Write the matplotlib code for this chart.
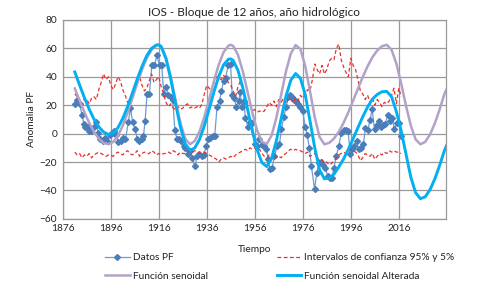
import matplotlib
matplotlib.use('Agg')
import matplotlib.pyplot as plt

plt.rcParams['font.family'] = ['Lato', 'DejaVu Sans']

# Datos PF (anomalia)
pf_years = [1881.0, 1882.0, 1883.0, 1884.0, 1884.8, 1885.4, 1886.4, 1887.1, 1887.9, 1888.9,
            1889.9, 1890.8, 1891.7, 1892.6, 1893.6, 1894.6, 1895.5, 1896.4, 1897.4, 1898.3,
            1899.2, 1900.2, 1901.2, 1902.1, 1903.3, 1904.2, 1905.1, 1906.1, 1907.1, 1907.9,
            1908.9, 1909.6, 1910.3, 1911.1, 1912.1, 1913.1, 1914.2, 1915.2, 1916.3, 1917.2,
            1918.1, 1919.0, 1919.9, 1920.9, 1921.8, 1922.7, 1923.6, 1924.6, 1925.4, 1926.3,
            1927.1, 1928.1, 1929.1, 1929.9, 1931.0, 1932.0, 1932.9, 1933.8, 1934.8, 1935.7,
            1936.6, 1937.4, 1938.5, 1939.3, 1940.3, 1941.3, 1942.1, 1943.0, 1943.8, 1944.9,
            1945.9, 1946.6, 1947.5, 1948.2, 1949.3, 1949.9, 1950.7, 1951.4, 1952.1, 1953.1,
            1954.0, 1954.9, 1955.9, 1956.9, 1957.8, 1958.9, 1959.9, 1960.8, 1961.6, 1962.4,
            1963.2, 1964.2, 1965.3, 1966.3, 1967.1, 1968.1, 1969.1, 1969.9, 1970.7, 1971.6,
            1972.5, 1973.2, 1974.0, 1975.0, 1976.0, 1977.0, 1977.8, 1978.8, 1979.6, 1980.9,
            1981.8, 1982.7, 1983.6, 1984.6, 1985.4, 1986.4, 1987.4, 1988.2, 1989.0, 1989.9,
            1991.0, 1992.0, 1993.0, 1994.0, 1994.9, 1995.7, 1996.6, 1997.5, 1998.5, 1999.3,
            2000.3, 2001.3, 2002.1, 2003.1, 2004.0, 2004.9, 2005.9, 2006.8, 2007.7, 2008.7,
            2009.6, 2010.4, 2011.4, 2012.4, 2013.2, 2014.2, 2015.2, 2016.0, 2017.0]
pf_vals = [21, 24, 21, 13, 7, 5, 5, 2, 2, 5,
           8, 0.5, -4, -5.5, -3, -5, -1, 0.5, 1.5, -1,
           -6, -5, -3, -4, 8, 18, 8, 3, -4, -5.5,
           -4, -2, 9, 28, 28, 48, 48, 55, 48, 48,
           28, 33, 27, 26, 24, 2.5, -4, -4, -5, -9,
           -10, -14, -12, -17, -23, -16, -14, -16, -15, -9,
           -4, -3, -2, -1.4, 19, 23, 30, 37, 39, 48,
           49, 27, 25, 19, 23, 29, 19, 23, 11, 5,
           8, 7.5, -7, -9, -4, -8, -9, -11, -18, -25,
           -24, -16, -9, -7, 3, 12, 19, 26, 27, 26,
           24, 23, 21, 19, 16, 5, -1, -10, -23, -39,
           -28, -21, -20, -22, -24, -30, -31, -31, -24, -16,
           -9, 0.5, 2.3, 2.3, 1.6, -14, -11, -9, -5.4, -11,
           -10, -7, 4, 2.3, 9.4, 17, 3, 6, 8.7, 5,
           6, 7, 13, 8.7, 11, 3, 7.5, 7.5, -1.4]

# Intervalos de confianza 95% y 5%
ic_years = list(range(1881, 2018))
ic_upper = [28, 26, 22, 20, 25, 24, 21, 25, 26, 24,
            31, 36, 42, 38, 40, 34, 31, 35, 40, 37,
            31, 27, 22, 24, 27, 33, 38, 40, 34, 30,
            32, 37, 42, 36, 38, 40, 33, 28, 22, 19,
            21, 18, 17, 19, 17, 18, 20, 21, 18, 19,
            18, 19, 18, 21, 28, 34, 32, 30, 36, 40,
            39, 38, 41, 39, 36, 34, 30, 26, 33, 37,
            30, 24, 21, 20, 16, 17, 15, 16, 15, 16,
            19, 22, 20, 23, 19, 24, 22, 25, 21, 25,
            24, 22, 25, 23, 27, 25, 27, 31, 30, 38,
            49, 45, 42, 48, 42, 45, 51, 53, 52, 60,
            63, 52, 47, 43, 40, 53, 48, 45, 38, 30,
            28, 24, 27, 22, 25, 20, 24, 22, 19, 22,
            21, 23, 27, 32, 21, 32, 26]
ic_lower = [-13, -15, -14, -17, -15, -16, -14, -17, -15, -14,
            -13, -14, -15, -16, -15, -15, -16, -14, -13, -14,
            -15, -13, -12, -14, -15, -14, -12, -16, -14, -13,
            -14, -14, -12, -13, -15, -14, -15, -14, -14, -13,
            -14, -12, -13, -15, -13, -14, -14, -12, -13, -13,
            -12, -13, -14, -13, -13, -14, -15, -16, -17, -18,
            -20, -18, -17, -18, -17, -16, -17, -15, -14, -13,
            -12, -11, -12, -10, -11, -10, -12, -11, -14, -16,
            -17, -15, -16, -14, -17, -16, -17, -15, -14, -12,
            -11, -12, -11, -12, -12, -13, -14, -13, -16, -15,
            -14, -17, -19, -18, -21, -20, -22, -21, -19, -17,
            -15, -14, -13, -14, -12, -11, -12, -13, -15, -19,
            -17, -14, -15, -16, -14, -18, -16, -14, -15, -13,
            -14, -12, -13, -12, -13, -13, -14]

# Funcion senoidal / senoidal alterada
sin_years = [1881, 1883, 1885, 1887, 1889, 1891, 1893, 1895, 1897, 1899, 1901, 1903, 1905,
             1907, 1909, 1911, 1913, 1915, 1916, 1917, 1919, 1921, 1923, 1925, 1927, 1929,
             1931, 1933, 1935, 1937, 1939, 1941, 1943, 1945, 1946, 1947, 1949, 1951, 1953,
             1955, 1957, 1959, 1961, 1963, 1965, 1967, 1969, 1971, 1973, 1975, 1977, 1979,
             1981, 1983, 1985, 1987, 1989, 1991, 1993, 1995, 1997, 1999, 2001, 2003, 2005,
             2007, 2009, 2011, 2013, 2015, 2017, 2019, 2021, 2023, 2025, 2027, 2029, 2031,
             2033, 2035, 2036]
senoidal = [31.8, 23.3, 15.1, 7.6, 1.3, -3.5, -6.5, -7.5, -5.9, -1.4, 5.7, 14.7, 24.9,
            35.3, 45.0, 53.2, 59.0, 62.1, 62.5, 61.5, 53.7, 39.9, 23.3, 7.6, -3.5, -7.5,
            -5.1, 1.6, 11.9, 24.3, 37.1, 48.6, 57.3, 61.9, 62.5, 61.7, 55.4, 43.9, 29.4,
            14.6, 2.1, -5.7, -7.3, -1.3, 11.2, 27.5, 43.8, 56.3, 62.3, 59.6, 47.7, 29.9,
            11.4, -2.4, -7.5, -6.5, -3.5, 1.3, 7.6, 15.1, 23.3, 31.7, 39.9, 47.4, 53.7,
            58.5, 61.5, 62.5, 59.0, 49.3, 35.3, 19.7, 5.7, -4.0, -7.5, -5.8, -0.7, 7.1,
            16.9, 27.8, 31.5]
alterada = [43.4, 34.2, 25.3, 17.2, 10.2, 4.8, 1.1, -0.6, 0.4, 4.2, 10.7, 19.0, 28.5,
            38.3, 47.3, 54.9, 60.0, 62.4, 62.5, 61.2, 52.7, 38.3, 21.0, 4.6, -7.1, -11.8,
            -10.1, -4.0, 5.6, 17.4, 29.5, 40.4, 48.4, 52.3, 52.6, 51.5, 44.5, 32.4, 17.2,
            1.7, -11.4, -20.5, -23.2, -17.5, -5.0, 10.7, 26.3, 37.5, 42.3, 39.0, 27.6, 9.1,
            -10.1, -25.5, -31.8, -31.2, -28.5, -23.5, -17.8, -11.0, -3.4, 4.3, 11.9, 18.7, 24.3,
            27.5, 29.5, 29.7, 26.0, 15.5, 2.0, -14.3, -30.5, -41.5, -45.8, -44.5, -39.5, -32.0,
            -22.5, -12.0, -8.0]

fig = plt.figure(figsize=(4.83, 2.85), dpi=100)
ax = fig.add_axes([0.130, 0.232, 0.793, 0.698])

grid_col = '#9a9a9a'
ax.set_xlim(1876, 2035.6)
ax.set_ylim(-60, 80)
ax.set_xticks(range(1876, 2017, 20))
ax.set_yticks(range(-60, 81, 20))
ax.grid(True, color=grid_col, linewidth=0.9)
ax.set_axisbelow(True)
for s in ax.spines.values():
    s.set_color(grid_col)
    s.set_linewidth(0.9)
ax.tick_params(length=0, labelsize=7.3, colors='#222222', pad=4)

h1, = ax.plot(pf_years, pf_vals, color='#6f9bd2', linewidth=0.9, marker='D',
              markersize=3.0, markerfacecolor='#4a7ebb', markeredgecolor='#4a7ebb',
              label='Datos PF')
h2, = ax.plot(ic_years, ic_upper, color='#e8302c', linewidth=0.9, linestyle=(0, (3, 2)),
              label='Intervalos de confianza 95% y 5%')
ax.plot(ic_years, ic_lower, color='#e8302c', linewidth=0.9, linestyle=(0, (3, 2)))
h3, = ax.plot(sin_years, senoidal, color='#b3a2c7', linewidth=1.8, label='Función senoidal')
h4, = ax.plot(sin_years, alterada, color='#00b0f0', linewidth=2.1,
              label='Función senoidal Alterada')

ax.set_title('IOS - Bloque de 12 años, año hidrológico', fontsize=8.5, color='#222222', pad=3)
ax.set_xlabel('Tiempo', fontsize=7.3, color='#222222', labelpad=8)
ax.set_ylabel('Anomalia PF', fontsize=7.3, color='#222222', labelpad=3)

fig.legend(handles=[h1, h3, h2, h4], ncol=2, loc='upper left',
           bbox_to_anchor=(0.218, 0.112), frameon=False, fontsize=7.3,
           handlelength=2.4, handletextpad=0.3, columnspacing=6.8,
           labelspacing=0.95, borderpad=0, borderaxespad=0, labelcolor='#222222')

fig.savefig('out.png', dpi=100)
